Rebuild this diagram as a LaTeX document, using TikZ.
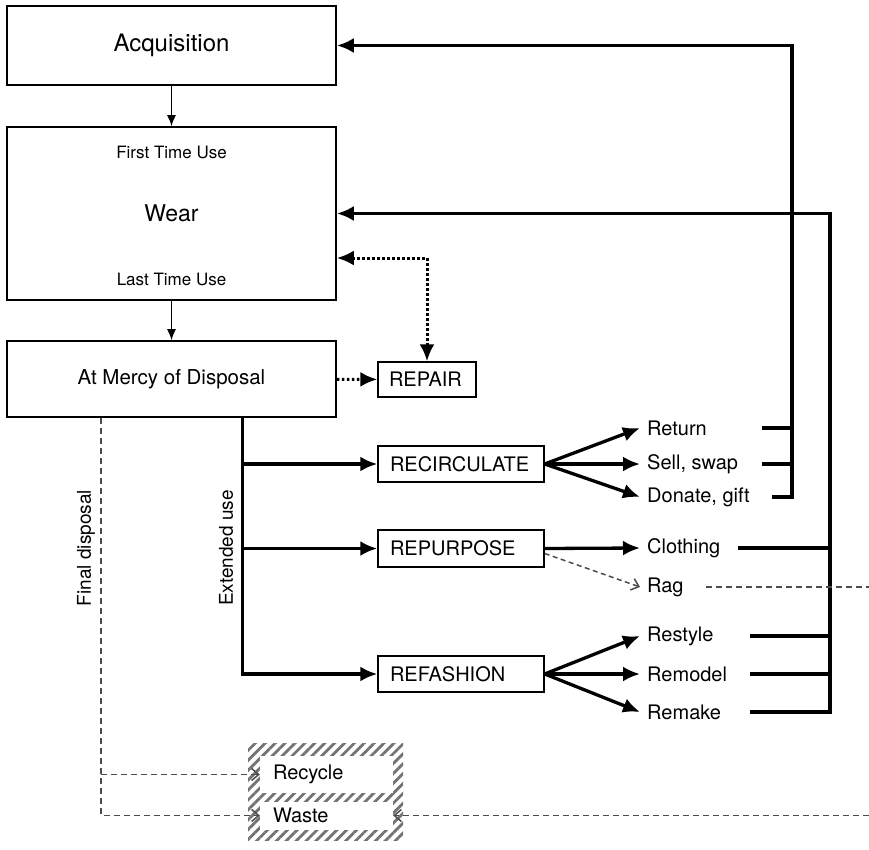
\documentclass[tikz,border=0pt]{standalone}
\usepackage{fontspec}
\setmainfont{TeX Gyre Heros}
\usetikzlibrary{arrows.meta,patterns.meta}
\definecolor{dashgray}{gray}{0.3}
\definecolor{hatchgray}{gray}{0.45}

\begin{document}
\begin{tikzpicture}[x=1pt, y=-1pt, >={Latex[length=17pt,width=15pt]},
    bigbox/.style={draw, line width=1.6pt, minimum width=329pt, font=\fontsize{24}{28}\selectfont},
    box/.style={draw, line width=1.4pt, minimum height=36pt, inner xsep=12pt, inner ysep=0pt,
                text width=142pt, align=left, font=\fontsize{20}{24}\selectfont},
    binbox/.style={fill=white, minimum width=133pt, inner xsep=13pt, inner ysep=0pt,
                text width=107pt, align=left, font=\fontsize{20}{24}\selectfont},
    item/.style={anchor=west, inner xsep=7pt, font=\fontsize{20}{24}\selectfont},
    small/.style={font=\fontsize{17}{20}\selectfont},
    side/.style={rotate=90, font=\fontsize{19}{22}\selectfont},
    thin arrow/.style={line width=1.4pt, -{Latex[length=11pt,width=9pt]}},
    thick line/.style={line width=3.3pt},
    dotline/.style={line width=3pt, dash pattern=on 2.6pt off 2.4pt},
    disp line/.style={line width=1.8pt, dashgray, dash pattern=on 6pt off 4pt},
    rag line/.style={line width=1.5pt, dashgray, dash pattern=on 5pt off 3.5pt},
    open tip/.style={-{Straight Barb[length=7pt,width=12pt,line width=1.5pt]}}
  ]
\useasboundingbox (0,0) rectangle (869,850);

% life stages
\node[bigbox, minimum height=79pt] (acq) at (171.5,45.5) {Acquisition};
\node[bigbox, minimum height=173pt] (wear) at (171.5,213.5) {\fontsize{23}{27}\selectfont Wear};
\node[small] (first) at (171.5,152) {First Time Use};
\node[small] (last) at (171.5,279) {Last Time Use};
\node[bigbox, minimum height=76pt, font=\fontsize{20.5}{24}\selectfont] (disp) at (171.5,379) {At Mercy of Disposal};

% options
\node[box, minimum height=35pt, text width=76pt, inner xsep=11pt] (repair) at (427,379.5) {REPAIR};
\node[box] (recirc) at (461,464) {RECIRCULATE};
\node[box, minimum height=37pt] (repurp) at (461,548.5) {REPURPOSE};
\node[box] (refash) at (461,674) {REFASHION};

\node[item] (ret) at (640,428) {Return};
\node[item] (sell) at (640,464) {Sell, swap};
\node[item] (don) at (640,497) {Donate, gift};
\node[item] (cloth) at (640,548) {Clothing};
\node[item] (rag) at (640,587) {Rag};
\node[item] (rest) at (640,636) {Restyle};
\node[item] (remod) at (640,674) {Remodel};
\node[item] (remk) at (640,712) {Remake};

% end of life
\fill[pattern={Lines[angle=45,distance=7pt,line width=2.8pt]}, pattern color=hatchgray]
    (248,743) rectangle (403,840);
\node[binbox, minimum height=37pt] (recycle) at (326.5,774.5) {Recycle};
\node[binbox, minimum height=28pt] (waste) at (326.5,815.5) {Waste};

\node[side] (extlbl) at (226,548) {Extended use};
\node[side] (finlbl) at (86,548) {Final disposal};

% connectors
\draw[thin arrow] (acq) -- (wear);
\draw[thin arrow] (wear) -- (disp);
\draw[dotline, ->] (disp) -- (repair);
\draw[dotline, <->] ([yshift=-44.5pt]wear.east) -| (repair);

\coordinate (ext) at ([xshift=-94pt]disp.south east);
\draw[thick line, ->] (ext) |- (refash);
\draw[thick line, ->] (ext |- recirc) -- (recirc);
\draw[thick line, ->] (ext |- repurp) -- (repurp);

\foreach \t in {ret,sell,don}
    \draw[thick line, ->] (recirc.east) -- (\t.west);
\draw[thick line, ->] (repurp.east) -- (cloth.west);
\draw[rag line, open tip] ([yshift=-5pt]repurp.east) -- (rag.west);
\foreach \t in {rest,remod,remk}
    \draw[thick line, ->] (refash.east) -- (\t.west);

% back to acquisition
\coordinate (tRet) at (762,428);
\coordinate (tSell) at (762,464);
\coordinate (tDon) at (772,497);
\coordinate (busA) at (792,497);
\draw[thick line, ->] (tDon) -- (busA) |- (acq);
\draw[thick line] (tRet) -- (tRet -| busA);
\draw[thick line] (tSell) -- (tSell -| busA);

% back to wear
\coordinate (tCloth) at (738,548);
\coordinate (tRest) at (750,636);
\coordinate (tRemod) at (750,674);
\coordinate (tRemk) at (750,712);
\coordinate (busB) at (830,712);
\draw[thick line, ->] (tRemk) -- (busB) |- (wear);
\foreach \t in {tCloth,tRest,tRemod}
    \draw[thick line] (\t) -- (\t -| busB);

% rag to waste
\coordinate (tRag) at (706,587);
\coordinate (offR) at (878,587);
\draw[disp line, open tip] (tRag) -- (offR) |- (waste.east);

% final disposal
\coordinate (fin) at ([xshift=95pt]disp.south west);
\draw[disp line, open tip] (fin) |- (waste.west);
\draw[disp line, open tip] (fin |- recycle) -- (recycle.west);
\end{tikzpicture}
\end{document}
